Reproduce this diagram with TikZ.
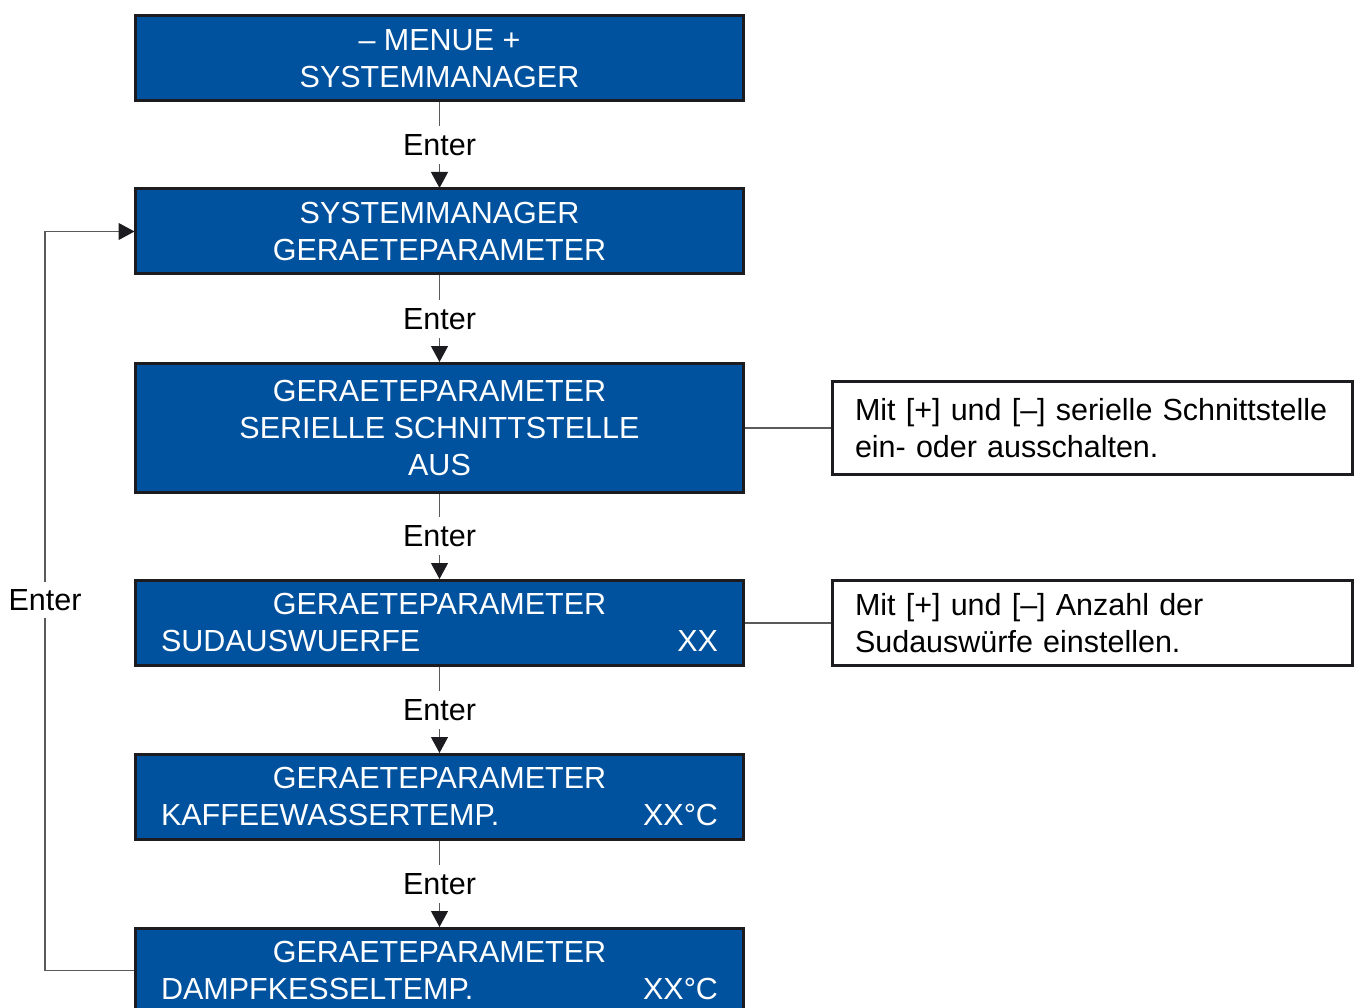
\documentclass[tikz,border=0pt]{standalone}
\usepackage{fontspec}
\setmainfont{Liberation Sans}
\usetikzlibrary{arrows.meta}
\definecolor{boxblue}{RGB}{0,81,158}
\definecolor{edge}{RGB}{28,28,32}
\definecolor{conncol}{RGB}{90,90,90}
\begin{document}
\begin{tikzpicture}[x=1pt,y=-1pt,
  txt/.style={font=\fontsize{30.5}{37}\selectfont},
  bluebox/.style={txt,draw=edge,line width=3pt,fill=boxblue,text=white,
    minimum width=608pt,align=center,inner sep=0pt},
  notebox/.style={txt,draw=edge,line width=3pt,fill=white,text=black,
    minimum width=520pt,text width=475pt,align=left,inner xsep=22.5pt,inner ysep=0pt},
  lbl/.style={txt,inner sep=0pt,minimum height=38pt,fill=white},
  conn/.style={draw=conncol,line width=1.2pt},
  arr/.style={conn,-{Triangle[length=16pt,width=17pt,color=edge]},shorten >=-0.5pt}
]
\useasboundingbox (0,0) rectangle (1360,1008);
\node[bluebox,minimum height=85pt] (b1) at (439.5,58.5) {– MENUE +\\SYSTEMMANAGER};
\node[bluebox,minimum height=85pt] (b2) at (439.5,231.5) {SYSTEMMANAGER\\GERAETEPARAMETER};
\node[bluebox,minimum height=129pt] (b3) at (439.5,427.5) {GERAETEPARAMETER\\SERIELLE SCHNITTSTELLE\\AUS};
\node[bluebox,minimum height=85pt] (b4) at (439.5,622.5) {GERAETEPARAMETER\\\makebox[557pt]{SUDAUSWUERFE\hfill XX}};
\node[bluebox,minimum height=85pt] (b5) at (439.5,796.5) {GERAETEPARAMETER\\\makebox[557pt]{KAFFEEWASSERTEMP.\hfill XX°C}};
\node[bluebox,minimum height=85pt] (b6) at (439.5,970.5) {GERAETEPARAMETER\\\makebox[557pt]{DAMPFKESSELTEMP.\hfill XX°C}};

\node[notebox,minimum height=93pt] (n1) at (1092.5,428) {Mit [+] und [–] serielle Schnittstelle\\ein- oder ausschalten.};
\node[notebox,minimum height=85pt] (n2) at (1092.5,623) {Mit [+] und [–] Anzahl der\\Sudauswürfe einstellen.};

\node[lbl] (e1) at (439.5,145) {Enter};
\node[lbl] (e2) at (439.5,319) {Enter};
\node[lbl] (e3) at (439.5,536) {Enter};
\node[lbl] (e4) at (439.5,710) {Enter};
\node[lbl] (e5) at (439.5,884) {Enter};
\node[lbl,minimum height=36pt] (el) at (45,600) {Enter};

\draw[conn] (b1.south) -- (e1.north);
\draw[arr] (e1.south) -- (b2.north);
\draw[conn] (b2.south) -- (e2.north);
\draw[arr] (e2.south) -- (b3.north);
\draw[conn] (b3.south) -- (e3.north);
\draw[arr] (e3.south) -- (b4.north);
\draw[conn] (b4.south) -- (e4.north);
\draw[arr] (e4.south) -- (b5.north);
\draw[conn] (b5.south) -- (e5.north);
\draw[arr] (e5.south) -- (b6.north);

\draw[conn] (b6.west) -| (el.south);
\draw[arr] (el.north) |- (b2.west);

\draw[conn] (b3.east |- n1.west) -- (n1.west);
\draw[conn] (b4.east |- n2.west) -- (n2.west);
\end{tikzpicture}
\end{document}
